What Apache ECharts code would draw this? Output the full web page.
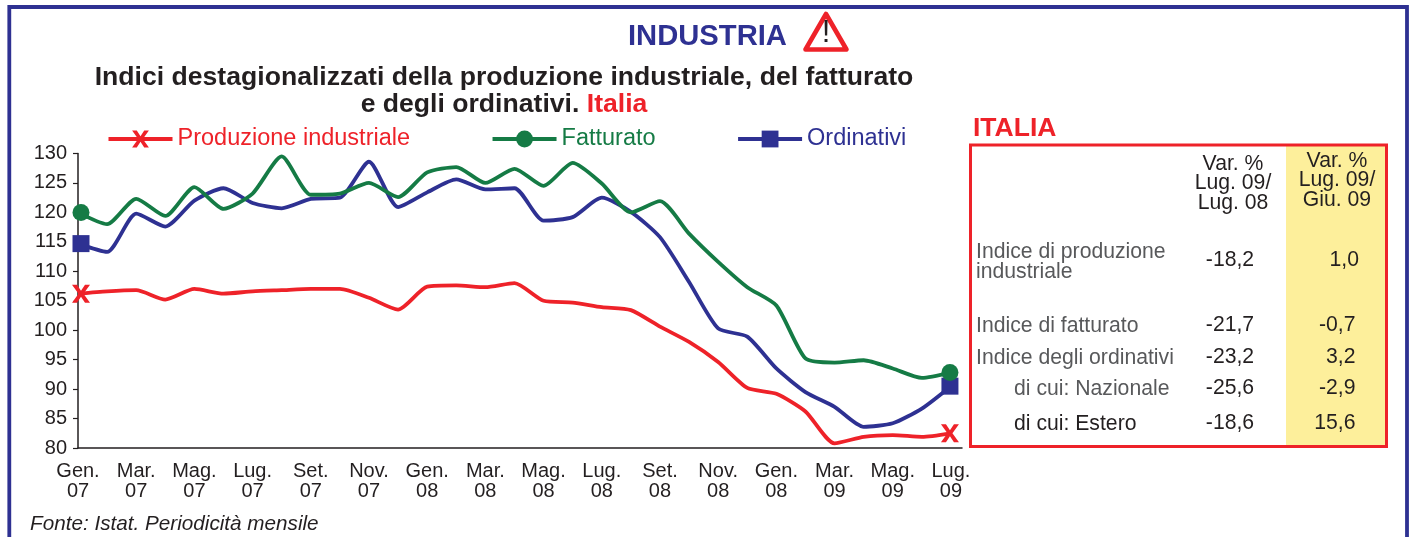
<!DOCTYPE html>
<html><head><meta charset="utf-8">
<style>html,body{margin:0;padding:0;background:#fff}#c{width:1411px;height:537px}</style>
<script src="https://cdn.jsdelivr.net/npm/echarts@6/dist/echarts.min.js"></script>
</head><body><div id="c"></div>
<script>
const tickLabels = ['Gen.\n07','Mar.\n07','Mag.\n07','Lug.\n07','Set.\n07','Nov.\n07','Gen.\n08','Mar.\n08','Mag.\n08','Lug.\n08','Set.\n08','Nov.\n08','Gen.\n08','Mar.\n09','Mag.\n09','Lug.\n09'];
const produzione = [106.2,106.6,106.8,105.2,107,106.2,106.6,106.8,107,107,105.5,103.5,107.4,107.6,107.3,108,105,104.7,103.9,103.4,100.6,98,94.6,90.2,89.2,86.2,80.8,81.9,82.2,81.9,82.5];
const fatturato = [120,118,122.3,119.4,124.3,120.6,123.2,129.5,123,123.2,125,122.6,126.8,127.7,125,127.4,124.5,128.4,124.9,120,121.9,116.4,111.6,107.3,104.2,95.2,94.5,94.9,93.5,91.9,92.8];
const ordinativi = [114.7,113.3,119.8,117.6,122,124.1,121.6,120.7,122.3,122.5,128.6,120.9,123.4,125.6,123.9,124.1,118.6,119.2,122.5,120.1,115.8,108.2,100.3,98.9,93.5,89.5,87,83.6,84.2,86.7,90.5];
const seriesNames = ['Produzione industriale','Fatturato','Ordinativi'];
const tableHeadA = ['Var. %','Lug. 09/','Lug. 08'];
const tableHeadB = ['Var. %','Lug. 09/','Giu. 09'];
const rowLabels = ['Indice di produzione\nindustriale','Indice di fatturato','Indice degli ordinativi','di cui: Nazionale','di cui: Estero'];
const varAnnua = ['-18,2','-21,7','-23,2','-25,6','-18,6'];
const varMese = ['1,0','-0,7','3,2','-2,9','15,6'];

const RED='#ee2229', GREEN='#157b45', BLUE='#2e3192', INK='#231f20', GREY='#58595b';
const FF='"Liberation Sans",Arial,sans-serif';
const X_PATH='path://M0,0 L5,0 L9,6 L13,0 L18,0 L11.5,9 L18,18 L13,18 L9,12 L5,18 L0,18 L6.5,9 Z';

function pts(arr){
  return arr.map((v,i)=>{
    if(i===0) return {value:[i,v],symbolOffset:[3,0]};
    if(i===arr.length-1) return {value:[i,v],symbolOffset:[-1,0]};
    return {value:[i,v],symbol:'none'};
  });
}
function line(name,arr,color,symbol,size,z){
  return {name,type:'line',data:pts(arr),smooth:0.22,symbol,symbolSize:size,symbolKeepAspect:true,z,
    lineStyle:{color,width:3.8,join:'round'},itemStyle:{color},clip:false,showSymbol:true,showAllSymbol:true,
    emphasis:{disabled:true}};
}
function txt(text,x,y,opt){
  opt=opt||{};
  return {type:'text',silent:true,z:20,style:{text,x,y,fill:opt.fill||INK,
    font:(opt.font||'21.2px')+' '+FF,textAlign:opt.align||'center',textVerticalAlign:'middle',lineHeight:opt.lh||19.3}};
}

const rowY=[261,326,358,389,424];
const graphic=[
  {type:'polyline',silent:true,z:1,shape:{points:[[9.3,537],[9.3,7],[1407,7],[1407,537]]},style:{stroke:BLUE,lineWidth:3.8,fill:null}},
  {type:'polygon',silent:true,z:5,shape:{points:[[826,14],[846.5,49.5],[805.5,49.5]]},style:{fill:'#fff',stroke:RED,lineWidth:4.6,lineJoin:'round'}},
  txt('!',826,33,{font:'31px',fill:INK}),
  txt('ITALIA',973,129,{font:'bold 26.5px',fill:RED,align:'left'}),
  {type:'rect',silent:true,z:2,shape:{x:1286,y:145,width:100,height:301},style:{fill:'#fdef9b'}},
  {type:'rect',silent:true,z:3,shape:{x:970.5,y:145,width:416,height:301.5},style:{fill:null,stroke:RED,lineWidth:3}},
  txt('Fonte: Istat. Periodicità mensile',30,524,{font:'italic 20.7px',align:'left'})
];
tableHeadA.forEach((t,i)=>graphic.push(txt(t,1233,164+i*19.4)));
tableHeadB.forEach((t,i)=>graphic.push(txt(t,1337,161+i*19.4)));
rowLabels.forEach((t,i)=>{
  graphic.push(txt(t,i>2?1014:976,i===0?262:rowY[i],{align:'left',fill:i===4?INK:GREY}));
  graphic.push(txt(varAnnua[i],1230,rowY[i]-1));
  graphic.push(txt(varMese[i],i===0?1359:1355.5,rowY[i]-1,{align:'right'}));
});

const chart=echarts.init(document.getElementById('c'),null,{renderer:'canvas'});
chart.setOption({
  animation:false,backgroundColor:'#fff',
  title:[
    {text:'INDUSTRIA',left:628,top:22,padding:0,textStyle:{fontFamily:FF,fontWeight:'bold',fontSize:29.2,color:BLUE}},
    {text:'{b|Indici destagionalizzati della produzione industriale, del fatturato}\n{b|e degli ordinativi. }{r|Italia}',
     left:504,top:64,padding:0,textAlign:'center',
     textStyle:{rich:{b:{fontFamily:FF,fontWeight:'bold',fontSize:26.6,color:INK,lineHeight:27},r:{fontFamily:FF,fontWeight:'bold',fontSize:26.6,color:RED,lineHeight:27}}}}
  ],
  legend:{left:106.5,top:127,padding:0,itemWidth:64,itemHeight:21,itemGap:80.5,selectedMode:false,
    lineStyle:{width:4},
    textStyle:{fontFamily:FF,fontSize:23.5},
    data:[{name:seriesNames[0],textStyle:{color:RED}},{name:seriesNames[1],textStyle:{color:GREEN}},{name:seriesNames[2],textStyle:{color:BLUE}}]},
  grid:{left:78,right:449,top:153.5,bottom:89,containLabel:false},
  xAxis:{type:'value',min:0,max:30.38,interval:2,splitLine:{show:false},axisTick:{show:false},
    axisLine:{lineStyle:{color:INK,width:1.5}},
    axisLabel:{color:INK,fontFamily:FF,fontSize:20,lineHeight:19.4,margin:14,showMaxLabel:false,hideOverlap:false,
      formatter:v=>tickLabels[v/2]||''}},
  yAxis:{type:'value',min:80,max:130,interval:5,splitLine:{show:false},
    axisLine:{show:true,lineStyle:{color:INK,width:1.5}},
    axisTick:{show:true,length:5,lineStyle:{color:INK,width:1.2}},
    axisLabel:{color:INK,fontFamily:FF,fontSize:20,margin:11}},
  series:[
    line(seriesNames[0],produzione,RED,X_PATH,18,4),
    line(seriesNames[1],fatturato,GREEN,'circle',17,3),
    line(seriesNames[2],ordinativi,BLUE,'rect',17,2)
  ],
  graphic
});
</script></body></html>
